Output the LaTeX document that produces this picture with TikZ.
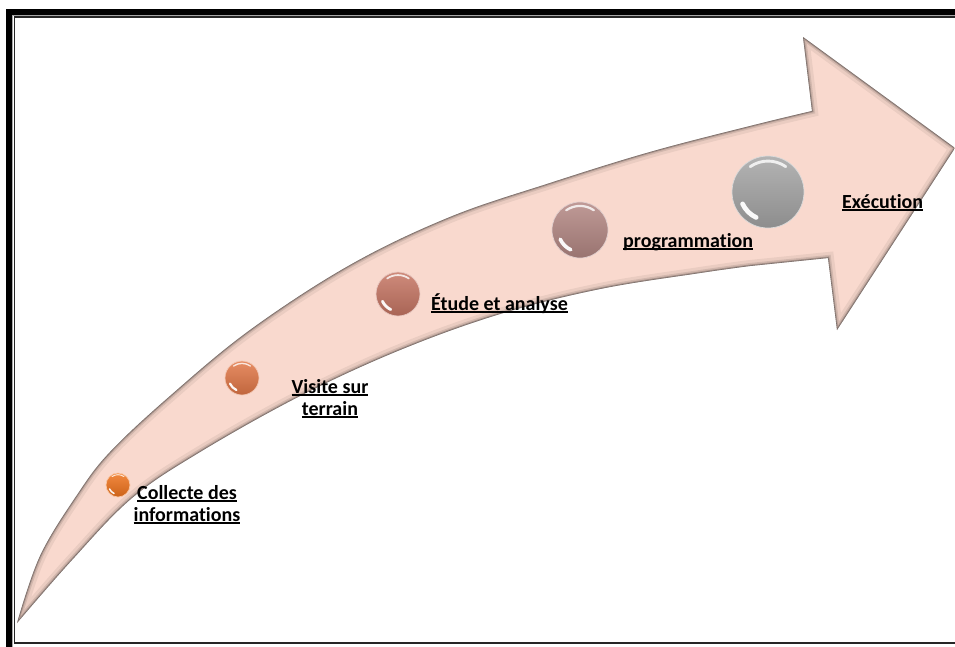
\documentclass[tikz,border=0pt]{standalone}
\usepackage{fontspec}
\setmainfont{Carlito}[Ligatures=NoCommon]
\definecolor{arrowpink}{RGB}{249,217,206}
\definecolor{cA}{RGB}{240,116,30}
\definecolor{cB}{RGB}{226,120,72}
\definecolor{cC}{RGB}{198,118,100}
\definecolor{cD}{RGB}{180,136,132}
\definecolor{cE}{RGB}{166,166,166}
\newsavebox\ulbox
\newcommand\myul[1]{\sbox\ulbox{#1}\rlap{\usebox\ulbox}\rule[-2.8pt]{\wd\ulbox}{1.4pt}}
\newcommand\ballnode[5]{%
  \node[ball, minimum size=#4*2pt, top color=#5!85!white, bottom color=#5!85!black, draw=#5!40!white, line width=0.7pt] (#1) at (#2,#3) {};
  \draw[white, line width=#4*0.08pt, opacity=0.8, line cap=round] ([shift={(125:#4*0.86pt)}]#1.center) arc[start angle=125, end angle=55, radius=#4*0.86pt];
  \draw[white, line width=#4*0.13pt, opacity=0.95, line cap=round] ([shift={(205:#4*0.78pt)}]#1.center) arc[start angle=205, end angle=245, radius=#4*0.78pt];
}
\def\arrowpath{plot[smooth,tension=0.6] coordinates {(17,623) (40,556) (77,495) (110,452) (170,396) (250,330) (350,265) (450,217) (550,183) (650,152) (750,126) (812,111)} -- (803,37) -- (955,148) -- (837,330) -- (828,258) -- plot[smooth,tension=0.6] coordinates {(750,266) (700,273) (600,289) (500,314) (400,350) (300,396) (200,452) (132,498) (72,560) (17,623)} -- cycle}
\tikzset{
  ball/.style={circle, inner sep=0pt, outer sep=0pt},
  lbl/.style={font=\bfseries\fontsize{20}{22}\selectfont, inner sep=0pt, align=center, text=black},
}
\begin{document}
\begin{tikzpicture}[x=1pt,y=-1pt]
\useasboundingbox (0,0) rectangle (955,646);
\clip (0,0) rectangle (955,646);
\fill[white] (0,0) rectangle (955,646);
% page border
\draw[black, line width=6pt] (9,12) rectangle (975,680);
\draw[black!35, line width=0.8pt] (12.6,15.6) rectangle (975,680);
\draw[black!85, line width=1.2pt] (14.2,17.0) rectangle (965,643);
% arrow
\fill[arrowpink] \arrowpath;
\begin{scope}
  \clip \arrowpath;
  \draw[black, opacity=0.06, line width=12pt] \arrowpath;
  \draw[black, opacity=0.10, line width=6pt] \arrowpath;
  \draw[black, opacity=0.18, line width=3pt] \arrowpath;
  \draw[black!70, opacity=0.5, line width=1.2pt] \arrowpath;
\end{scope}
% balls
\ballnode{b1}{118}{485}{12}{cA}
\ballnode{b2}{242}{378}{17}{cB}
\ballnode{b3}{398}{294}{22}{cC}
\ballnode{b4}{580}{230}{28}{cD}
\ballnode{b5}{768}{192}{36}{cE}
% labels
\node[lbl, anchor=base] (l1) at (187,521) {\myul{Collecte des}\\\myul{informations}};
\node[lbl, anchor=base] (l2) at (330,415) {\myul{Visite sur}\\\myul{terrain}};
\node[lbl, anchor=base west] (l3) at (431,310) {\myul{Étude et analyse}};
\node[lbl, anchor=base west] (l4) at (623,247) {\myul{programmation}};
\node[lbl, anchor=base west] (l5) at (842,208) {\myul{Exécution}};
\end{tikzpicture}
\end{document}
